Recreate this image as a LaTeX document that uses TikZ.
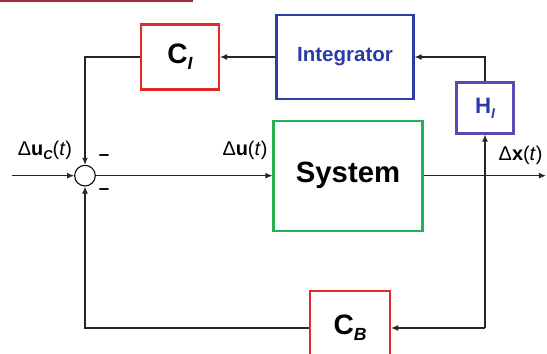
\documentclass[tikz,border=0pt]{standalone}
\usepackage{fontspec}
\setmainfont{Liberation Sans}
\usepackage{xcolor}
\usepackage{tikz}
\usetikzlibrary{shapes,arrows.meta,positioning,calc}

\definecolor{boxred}{RGB}{228,40,40}
\definecolor{boxblue}{RGB}{45,60,165}
\definecolor{boxviolet}{RGB}{90,75,180}
\definecolor{boxgreen}{RGB}{40,175,80}
\definecolor{topline}{RGB}{160,40,60}

\newcommand{\sub}[2]{\raisebox{-0.4ex}{\fontsize{#1}{#1}\selectfont\bfseries\itshape #2}}

\begin{document}
\begin{tikzpicture}[
  block/.style={rectangle, draw, line width=1.8pt, fill=white, font=\bfseries, inner sep=2pt},
  gain/.style={block, draw=boxred, minimum width=2.34cm, minimum height=1.95cm, font=\fontsize{24}{28}\selectfont\bfseries},
  arrow/.style={-{Latex[length=6pt,width=5pt]}, line width=0.9pt, black!85},
  sign/.style={font=\fontsize{16}{18}\selectfont\bfseries}
]
\clip (0,0) rectangle (16.41,10.62);
\useasboundingbox (0,0) rectangle (16.41,10.62);

\draw[topline, line width=1.6pt] (0,10.59) -- (5.79,10.59);

% Upper loop
\node[gain] (ci) at (5.4, 8.91) {C\sub{15}{I}};
\node[block, draw=boxblue, text=boxblue, minimum width=4.11cm, minimum height=2.52cm, font=\fontsize{17.5}{20}\selectfont\bfseries] (integ) at (10.35, 8.91) {Integrator};
\node[block, draw=boxviolet, text=boxblue, minimum width=1.71cm, minimum height=1.53cm, font=\fontsize{19}{22}\selectfont\bfseries] (hi) at (14.55, 7.38) {H\sub{12}{I}};

% Plant
\node[block, draw=boxgreen, minimum width=4.47cm, minimum height=3.3cm, font=\fontsize{25}{30}\selectfont\bfseries] (sys) at (10.44, 5.35) {System};
\node[circle, draw, line width=0.9pt, minimum size=0.62cm, inner sep=0pt] (sum) at (2.55, 5.35) {};

% Lower loop
\node[gain, minimum width=2.4cm, minimum height=2.2cm] (cb) at (10.5, 0.78) {C\sub{15}{B}};

\coordinate (in) at (0.36, 5.35);
\coordinate (out) at (16.38, 5.35);
\coordinate (tap) at (14.55, 0.78);

% Labels
\node[font=\fontsize{17}{20}\selectfont] (ucl) at (1.35, 6.1) {Δ\textbf{u}\sub{11}{C}(\textit{t})};
\node[font=\fontsize{17}{20}\selectfont] (ul) at (7.35, 6.1) {Δ\textbf{u}(\textit{t})};
\node[font=\fontsize{17}{20}\selectfont] (xl) at (15.62, 5.97) {Δ\textbf{x}(\textit{t})};
\node[sign] (m1) at (3.12, 5.88) {--};
\node[sign] (m2) at (3.12, 4.86) {--};

% Connections
\draw[arrow] (in) -- (sum.west);
\draw[arrow] (sum.east) -- (sys.west);
\draw[arrow] (sys.east) -- (out);
\draw[arrow] (integ.west) -- (ci.east);
\draw[arrow] (ci.west) -| (sum.north);
\draw[arrow] (hi.north) |- (integ.east);
\draw[arrow] (tap) -- (hi.south);
\draw[arrow] (tap) -- (cb.east);
\draw[arrow] (cb.west) -| (sum.south);

\end{tikzpicture}
\end{document}
